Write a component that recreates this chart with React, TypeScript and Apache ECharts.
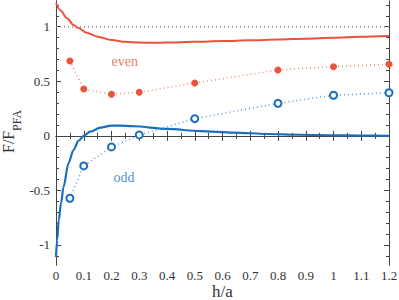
import React, { useEffect, useRef } from "react";
import * as echarts from "echarts";

// ---- data ----
const evenCurve: [number, number][] = [
  [0, 1.22], [0.015, 1.153], [0.04, 1.077], [0.063, 1.016], [0.08, 0.99],
  [0.11, 0.945], [0.15, 0.909], [0.2, 0.878], [0.25, 0.862], [0.3, 0.855],
  [0.35, 0.853], [0.4, 0.855], [0.5, 0.862], [0.6, 0.869], [0.7, 0.876],
  [0.8, 0.883], [0.9, 0.891], [1.0, 0.9], [1.1, 0.908], [1.2, 0.915],
];
const oddCurve: [number, number][] = [
  [0, -1.11], [0.004, -0.955], [0.01, -0.77], [0.018, -0.62], [0.027, -0.47],
  [0.045, -0.25], [0.063, -0.13], [0.081, -0.045], [0.1, 0.0], [0.123, 0.038],
  [0.16, 0.075], [0.2, 0.093], [0.23, 0.094], [0.28, 0.088], [0.4, 0.063],
  [0.52, 0.044], [0.64, 0.03], [0.76, 0.017], [0.88, 0.01], [1.0, 0.005],
  [1.1, 0.002], [1.2, 0.0],
];
const sampleH = [0.05, 0.1, 0.2, 0.3, 0.5, 0.8, 1.0, 1.2];
const evenPoints = [0.686, 0.429, 0.381, 0.399, 0.484, 0.603, 0.634, 0.656];
const oddPoints = [-0.572, -0.276, -0.102, 0.008, 0.157, 0.298, 0.372, 0.395];
const pfaLine: [number, number][] = [[0, 1], [1.2, 1]];
const yMajorTicks = [-1, -0.5, 0, 0.5, 1];
const yMinorTicks = [
  -1.1, -1.0, -0.9, -0.8, -0.7, -0.6, -0.5, -0.4, -0.3, -0.2, -0.1, 0,
  0.1, 0.2, 0.3, 0.4, 0.5, 0.6, 0.7, 0.8, 0.9, 1.0, 1.1, 1.2,
];
const annotations = [
  { text: "even", x: 0.248, y: 0.686, color: "#e8543c" },
  { text: "odd", x: 0.245, y: -0.385, color: "#1a6ebf" },
];
const yTitleMain = "F/F";
const yTitleSub = "PFA";
const xTitle = "h/a";

const RED = "#e8543c";
const BLUE = "#1a6ebf";
const AXIS = "#444";
const SERIF = "Liberation Serif";
const Y_MIN = -1.184;
const Y_MAX = 1.236;

export default function App() {
  const ref = useRef<HTMLDivElement>(null);
  useEffect(() => {
    if (!ref.current) return;
    const chart = echarts.init(ref.current, undefined, { renderer: "svg" });

    const xAxisBase = (pos: "bottom" | "top", labels: boolean) => ({
      type: "value",
      position: pos,
      min: 0,
      max: 1.2,
      interval: 0.1,
      axisLine: { show: true, lineStyle: { color: AXIS, width: 1 } },
      axisTick: { show: true, inside: true, length: 5, lineStyle: { color: AXIS } },
      minorTick: { show: true, splitNumber: 2, length: 3, lineStyle: { color: AXIS } },
      splitLine: { show: false },
      minorSplitLine: { show: false },
      axisLabel: {
        show: labels,
        color: "#333",
        fontFamily: SERIF,
        fontSize: 13,
        margin: 4,
      },
      ...(labels
        ? {
            name: xTitle,
            nameLocation: "middle",
            nameGap: 18,
            nameMoveOverlap: false,
            nameTextStyle: { fontFamily: SERIF, fontSize: 17, color: "#333" },
          }
        : {}),
    });

    const yAxisBase = (pos: "left" | "right", major: boolean, labels: boolean) => ({
      type: "value",
      position: pos,
      min: Y_MIN,
      max: Y_MAX,
      axisLine: { show: true, lineStyle: { color: AXIS, width: 1 } },
      axisTick: {
        show: true,
        inside: true,
        length: major ? 5 : 3,
        customValues: major ? yMajorTicks : yMinorTicks,
        lineStyle: { color: AXIS },
      },
      splitLine: { show: false },
      axisLabel: {
        show: labels,
        customValues: yMajorTicks,
        color: "#333",
        fontFamily: SERIF,
        fontSize: 13,
        margin: 6,
      },
    });

    chart.setOption({
      animation: false,
      backgroundColor: "#fff",
      grid: {
        left: 56,
        right: 10,
        top: 1,
        bottom: 35,
        containLabel: false,
        outerBoundsMode: "none",
      },
      xAxis: [xAxisBase("bottom", true), xAxisBase("top", false)],
      yAxis: [
        yAxisBase("left", true, true),
        yAxisBase("left", false, false),
        yAxisBase("right", true, false),
        yAxisBase("right", false, false),
      ],
      graphic: [
        {
          type: "text",
          x: 0,
          y: 153,
          rotation: Math.PI / 2,
          style: { text: yTitleMain, font: `16px ${SERIF}`, fill: "#333" },
        },
        {
          type: "text",
          x: 11,
          y: 131,
          rotation: Math.PI / 2,
          style: { text: yTitleSub, font: `12px ${SERIF}`, fill: "#333" },
        },
      ],
      series: [
        {
          type: "line",
          data: pfaLine,
          symbol: "none",
          silent: true,
          lineStyle: { color: "#888", width: 1.5, type: [1, 3] },
        },
        {
          type: "line",
          data: evenCurve,
          symbol: "none",
          smooth: 0.3,
          smoothMonotone: "x",
          lineStyle: { color: RED, width: 2 },
        },
        {
          type: "line",
          data: oddCurve,
          symbol: "none",
          smooth: 0.3,
          smoothMonotone: "x",
          lineStyle: { color: BLUE, width: 2.2 },
        },
        {
          type: "line",
          data: sampleH.map((h, i) => [h, evenPoints[i]]),
          symbol: "circle",
          symbolSize: 7,
          itemStyle: { color: RED },
          lineStyle: { color: "#f08a78", width: 1.5, type: [1, 3] },
        },
        {
          type: "line",
          data: sampleH.map((h, i) => [h, oddPoints[i]]),
          symbol: "circle",
          symbolSize: 7,
          itemStyle: { color: "#fff", borderColor: BLUE, borderWidth: 2 },
          lineStyle: { color: "#5a9ad6", width: 1.5, type: [1, 3] },
        },
        ...annotations.map((a) => ({
          type: "scatter",
          data: [[a.x, a.y]],
          symbolSize: 0,
          silent: true,
          label: {
            show: true,
            position: "inside",
            formatter: a.text,
            color: a.color,
            fontFamily: SERIF,
            fontSize: 14,
          },
        })),
      ],
    });
    return () => chart.dispose();
  }, []);
  return (
    <div
      ref={ref}
      style={{ position: "fixed", left: 0, top: 0, width: 399, height: 300 }}
    />
  );
}
